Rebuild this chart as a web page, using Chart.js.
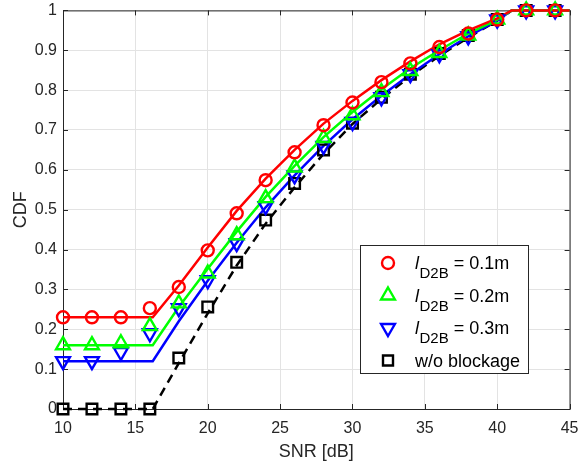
<!DOCTYPE html>
<html lang="en">
<head>
  <meta charset="UTF-8" />
  <title>CDF vs SNR</title>
  <script src="https://cdn.jsdelivr.net/npm/chart.js"></script>
  <style>
    html, body { margin: 0; padding: 0; background: #fff; }
    #box { width: 580px; height: 466px; }
  </style>
</head>
<body>
  <div id="box"><canvas id="cdfChart" width="580" height="466"></canvas></div>

  <script>
    // simulated points (markers), every 2 dB
    const snrSim = [10, 12, 14, 16, 18, 20, 22, 24, 26, 28, 30, 32, 34, 36, 38, 40, 42, 44];
    const sim01 = [0.23, 0.23, 0.23, 0.253, 0.306, 0.398, 0.491, 0.574, 0.644, 0.712, 0.769, 0.82, 0.867, 0.908, 0.942, 0.977, 1, 1];
    const sim02 = [0.16, 0.16, 0.165, 0.208, 0.265, 0.34, 0.436, 0.529, 0.606, 0.68, 0.737, 0.795, 0.848, 0.893, 0.937, 0.977, 1, 1];
    const sim03 = [0.12, 0.12, 0.143, 0.19, 0.253, 0.323, 0.416, 0.509, 0.586, 0.66, 0.72, 0.782, 0.84, 0.89, 0.935, 0.977, 1, 1];
    const simNoBlock = [0, 0, 0, 0, 0.128, 0.256, 0.368, 0.474, 0.566, 0.65, 0.717, 0.782, 0.84, 0.892, 0.937, 0.977, 1, 1];

    // analytical curves (lines)
    const snrLine = [10, 16.2, 18, 20, 22, 24, 26, 28, 30, 32, 34, 36, 38, 40, 41, 45];
    const line01 = [0.23, 0.23, 0.31, 0.405, 0.497, 0.578, 0.65, 0.716, 0.773, 0.825, 0.872, 0.915, 0.95, 0.98, 1, 1];
    const line02 = [0.16, 0.16, 0.256, 0.352, 0.445, 0.532, 0.61, 0.682, 0.745, 0.802, 0.855, 0.9, 0.942, 0.977, 1, 1];
    const line03 = [0.12, 0.12, 0.22, 0.322, 0.417, 0.506, 0.586, 0.66, 0.727, 0.786, 0.84, 0.89, 0.935, 0.975, 1, 1];
    const lineNoBlock = [0, 0, 0.115, 0.24, 0.36, 0.465, 0.556, 0.64, 0.715, 0.778, 0.835, 0.886, 0.932, 0.974, 1, 1];

    const xTicks = [10, 15, 20, 25, 30, 35, 40, 45];
    const yTicks = [0, 0.1, 0.2, 0.3, 0.4, 0.5, 0.6, 0.7, 0.8, 0.9, 1];
    const legendValues = ['0.1m', '0.2m', '0.3m'];
    const legendPlain = 'w/o blockage';

    const FONT = '"Liberation Sans", Arial, sans-serif';
    const INK = '#262626';
    const RED = '#ff0000', GREEN = '#00ff00', BLUE = '#0000ff', BLACK = '#000000';

    const toXY = (xs, ys) => xs.map((x, i) => ({ x: x, y: ys[i] }));

    function lineSet(ys, color, dash) {
      return {
        data: toXY(snrLine, ys),
        showLine: true,
        borderColor: color,
        borderWidth: 2.5,
        borderDash: dash || [],
        pointRadius: 0,
        pointHoverRadius: 0,
        clip: false,
        order: 2
      };
    }
    function markSet(ys, color, style, radius, rot) {
      return {
        data: toXY(snrSim, ys),
        showLine: false,
        borderColor: color,
        backgroundColor: 'rgba(0,0,0,0)',
        pointStyle: style,
        pointRadius: radius,
        pointRotation: rot || 0,
        pointBorderWidth: 2.4,
        clip: false,
        order: 1
      };
    }

    // shapes for the hand-drawn legend
    function drawMarker(ctx, shape, x, y, color) {
      ctx.save();
      ctx.strokeStyle = color;
      ctx.lineWidth = 2.4;
      ctx.beginPath();
      if (shape === 'circle') {
        ctx.arc(x, y, 6, 0, Math.PI * 2);
      } else if (shape === 'up' || shape === 'down') {
        const r = 8, s = shape === 'up' ? 1 : -1;
        ctx.moveTo(x, y - s * r);
        ctx.lineTo(x + r * 0.866, y + s * r * 0.5);
        ctx.lineTo(x - r * 0.866, y + s * r * 0.5);
        ctx.closePath();
      } else {
        ctx.rect(x - 5, y - 5, 10, 10);
      }
      ctx.stroke();
      ctx.restore();
    }

    const frame = {
      id: 'frame',
      beforeDatasetsDraw(chart) {
        const { ctx, chartArea: a, scales } = chart;
        ctx.save();
        ctx.strokeStyle = INK;
        ctx.lineWidth = 1;
        ctx.strokeRect(a.left + 0.5, a.top + 0.5, a.right - a.left, a.bottom - a.top);
        ctx.beginPath();
        xTicks.forEach(v => {
          const px = Math.round(scales.x.getPixelForValue(v)) + 0.5;
          ctx.moveTo(px, a.bottom); ctx.lineTo(px, a.bottom - 5);
          ctx.moveTo(px, a.top); ctx.lineTo(px, a.top + 5);
        });
        yTicks.forEach(v => {
          const py = Math.round(scales.y.getPixelForValue(v)) + 0.5;
          ctx.moveTo(a.left, py); ctx.lineTo(a.left + 5, py);
          ctx.moveTo(a.right, py); ctx.lineTo(a.right - 5, py);
        });
        ctx.stroke();
        ctx.restore();
      },
      afterDraw(chart) {
        const ctx = chart.ctx;
        const bx = 360, by = 245, bw = 168, bh = 128;
        ctx.save();
        ctx.fillStyle = '#fff';
        ctx.fillRect(bx, by, bw, bh);
        ctx.strokeStyle = INK;
        ctx.lineWidth = 1;
        ctx.strokeRect(bx + 0.5, by + 0.5, bw, bh);

        const shapes = ['circle', 'up', 'down'];
        const colors = [RED, GREEN, BLUE];
        ctx.fillStyle = '#000';
        ctx.textBaseline = 'alphabetic';
        for (let i = 0; i < 3; i++) {
          const cy = 263 + i * 32.5;
          drawMarker(ctx, shapes[i], 388, cy, colors[i]);
          let tx = 415;
          const base = cy + 6;
          ctx.font = 'italic 18px ' + FONT;
          ctx.fillText('l', tx, base);
          tx += ctx.measureText('l').width + 0.5;
          ctx.font = '15px ' + FONT;
          ctx.fillText('D2B', tx, base + 9);
          tx += ctx.measureText('D2B').width;
          ctx.font = '18px ' + FONT;
          ctx.fillText(' = ' + legendValues[i], tx, base);
        }
        const cy4 = 263 + 3 * 32.5;
        drawMarker(ctx, 'square', 388, cy4, BLACK);
        ctx.font = '18px ' + FONT;
        ctx.fillText(legendPlain, 415, cy4 + 6);
        ctx.restore();
      }
    };

    const ctx = document.getElementById('cdfChart').getContext('2d');
    new Chart(ctx, {
      type: 'scatter',
      data: {
        datasets: [
          markSet(sim01, RED, 'circle', 6),
          markSet(sim02, GREEN, 'triangle', 8),
          markSet(sim03, BLUE, 'triangle', 8, 180),
          markSet(simNoBlock, BLACK, 'rect', 7.5),
          lineSet(line01, RED),
          lineSet(line02, GREEN),
          lineSet(line03, BLUE),
          lineSet(lineNoBlock, BLACK, [9, 6])
        ]
      },
      options: {
        responsive: false,
        animation: false,
        layout: { padding: { top: 10, right: 10, left: 0, bottom: 0 } },
        plugins: {
          legend: { display: false },
          tooltip: { enabled: false }
        },
        scales: {
          x: {
            type: 'linear',
            min: 10,
            max: 45,
            // fixed box so the plot area matches the original
            afterFit: s => { s.height = 57; s.paddingLeft = 0; s.paddingRight = 0; },
            afterBuildTicks: s => { s.ticks = xTicks.map(v => ({ value: v })); },
            grid: { color: '#e3e3e3', drawTicks: false },
            border: { display: false },
            ticks: { color: INK, padding: 10, font: { family: FONT, size: 16 }, maxRotation: 0 },
            title: {
              display: true,
              text: 'SNR [dB]',
              color: INK,
              font: { family: FONT, size: 18 },
              padding: { top: 0, bottom: 3 }
            }
          },
          y: {
            type: 'linear',
            min: 0,
            max: 1,
            afterFit: s => { s.width = 63; s.paddingTop = 0; s.paddingBottom = 0; },
            afterBuildTicks: s => { s.ticks = yTicks.map(v => ({ value: v })); },
            grid: { color: '#e3e3e3', drawTicks: false },
            border: { display: false },
            ticks: {
              color: INK,
              padding: 6,
              font: { family: FONT, size: 16 },
              callback: v => String(+v.toFixed(1))
            },
            title: {
              display: true,
              text: 'CDF',
              color: INK,
              font: { family: FONT, size: 18 },
              padding: { top: 10, bottom: 0 }
            }
          }
        }
      },
      plugins: [frame]
    });
  </script>
</body>
</html>
